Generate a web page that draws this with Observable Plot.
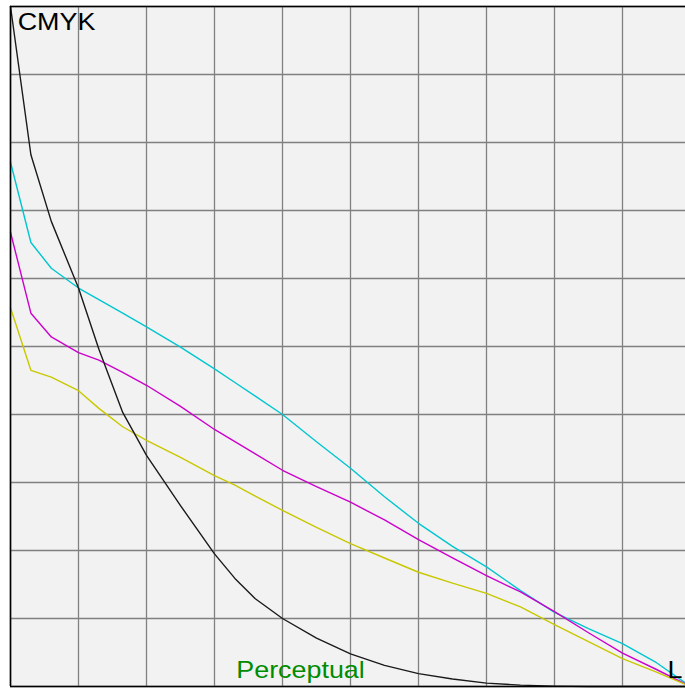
<!DOCTYPE html>
<html><head><meta charset="utf-8">
<script src="https://cdn.jsdelivr.net/npm/d3@7"></script>
<script src="https://cdn.jsdelivr.net/npm/@observablehq/plot@0.6"></script>
<style>body{margin:0;background:#fff;overflow:hidden}</style>
</head><body><div id="chart"></div>
<script>
// L (lightness) sample positions, shared by all four separations
const L = [0, 3, 6, 10, 13, 16.5, 20, 25, 30, 33, 36, 40, 45, 50, 55, 60, 65, 70, 75, 80, 85, 90, 95, 100];
const cyan    = [77.1, 65.3, 61.5, 58.6, 56.9, 54.9, 52.9, 49.9, 46.7, 44.7, 42.7, 40.0, 36.0, 32.1, 27.9, 24.0, 20.6, 17.6, 14.1, 10.9, 8.5, 6.3, 3.5, 0];
const magenta = [66.8, 54.9, 51.4, 49.1, 48.0, 46.2, 44.3, 41.2, 37.8, 36.0, 34.2, 31.8, 29.4, 27.1, 24.5, 21.6, 18.9, 16.3, 13.9, 11.0, 7.9, 4.9, 2.5, 0];
const yellow  = [55.7, 46.5, 45.5, 43.5, 40.9, 38.2, 36.2, 33.7, 31.0, 29.6, 28.0, 25.9, 23.4, 21.0, 18.9, 16.8, 15.2, 13.7, 11.7, 9.1, 6.6, 4.1, 2.1, 0];
const black   = [100, 78.2, 68.4, 58.6, 49.6, 40.3, 34.0, 26.6, 19.5, 15.9, 12.9, 10.0, 7.1, 4.8, 3.1, 1.9, 1.1, 0.5, 0.2, 0.05, 0, 0, 0, 0];

// separation codes (not CSS color names, so the color scale is used)
const seriesNames  = ["C", "M", "Y", "K"];
const seriesValues = [cyan, magenta, yellow, black];
const seriesColors = ["#00c6d0", "#cc00cc", "#c8c800", "#1a1a1a"];

const labels      = ["CMYK", "Perceptual", "L"];
const labelX      = [1.06, 33.2, 96.6];
const labelY      = [96.6, 1.18, 1.18];
const labelColors = ["#000000", "#008c00", "#000000"];

const ticks = [0, 10, 20, 30, 40, 50, 60, 70, 80, 90, 100];

const rows = [];
seriesNames.forEach((s, k) => L.forEach((l, i) => rows.push({s, L: l, v: seriesValues[k][i]})));

const chart = Plot.plot({
  width: 685, height: 688,
  marginLeft: 10, marginTop: 6, marginRight: 0, marginBottom: 2,
  x: {domain: [0, 100], range: [10, 690], axis: null},
  y: {domain: [0, 100], range: [686, 6], axis: null},
  color: {type: "ordinal", domain: seriesNames, range: seriesColors},
  style: {background: "#ffffff", fontFamily: "'Liberation Sans', Arial, sans-serif"},
  marks: [
    Plot.frame({fill: "#f2f2f2"}),
    Plot.ruleX(ticks, {stroke: "#808080", strokeWidth: 1.3}),
    Plot.ruleY(ticks, {stroke: "#808080", strokeWidth: 1.3}),
    Plot.line(rows, {x: "L", y: "v", z: "s", stroke: "s", strokeWidth: 1.4}),
    Plot.ruleX([0], {stroke: "#000", strokeWidth: 1.6}),
    Plot.ruleY([0, 100], {stroke: "#000", strokeWidth: 1.6}),
    ...labels.map((t, i) => Plot.text([t], {
      x: () => labelX[i], y: () => labelY[i], text: d => d,
      fill: labelColors[i], textAnchor: "start", lineAnchor: "bottom", fontSize: 24
    }))
  ]
});
document.getElementById("chart").appendChild(chart);
d3.select(chart).selectAll("text").each(function () {
  const w = this.getComputedTextLength();
  this.setAttribute("textLength", w * 1.12);
  this.setAttribute("lengthAdjust", "spacingAndGlyphs");
});
</script>
</body></html>
